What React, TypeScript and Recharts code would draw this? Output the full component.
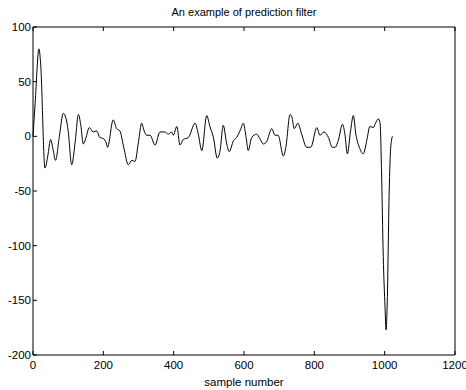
import React from "react";
import { LineChart, Line, XAxis, YAxis, Label } from "recharts";

const sampleIndex = [
  0, 6, 17, 22, 34, 42, 50, 57, 64, 75, 86, 95, 100, 110, 120, 129, 136, 143, 150, 160,
  171, 181, 190, 200, 208, 212, 228, 238, 247, 258, 271, 281, 290, 300, 309, 316, 323, 333,
  347, 361, 375, 385, 394, 399, 409, 418, 427, 442, 461, 470, 480, 494, 503, 513, 524, 532,
  541, 551, 558, 570, 579, 590, 598, 606, 612, 622, 636, 645, 655, 664, 679, 688, 697, 712,
  719, 731, 736, 743, 753, 764, 778, 790, 807, 816, 827, 840, 851, 859, 868, 880, 887, 894,
  903, 911, 918, 928, 939, 949, 958, 968, 974, 982, 987, 991, 996, 1001, 1004, 1007, 1013,
  1017, 1022,
];
const filterOutput = [
  0, 30, 80, 65, -29, -18, -3, -12, -22, 0, 21, 15, 5, -26, -5, 20, 10, -7, -2, 8,
  4, 5, -1, -2, -6, -10, 15, 7, 5, -10, -26, -22, -23, -5, 12, 5, 1, 1,
  -8, 4, 4, 2, 4, 1, 9, -8, -3, -1, 12, 2, -13, 19, 9, -1, -20, -13,
  10, -7, -14, -4, -1, 6, 12, -1, -13, -1, 2, -2, -7, -5, 7, 1, 1, -18,
  -10, 20, 18, 7, 12, 2, -10, -10, 8, 1, 4, -1, -10, -10, -4, 11, 2, -16,
  5, 19, 2, -10, -16, -4, 9, 8, 12, 16, 12, -31, -110, -156, -177, -156, -49,
  -11, 0,
];
const xTicks = [0, 200, 400, 600, 800, 1000, 1200];
const yTicks = [-200, -150, -100, -50, 0, 50, 100];

const data = sampleIndex.map((s, i) => ({ n: s, v: filterOutput[i] }));

const FONT = "'Liberation Sans', Arial, Helvetica, sans-serif";
const TICK_LEN = 4;

const BottomTick = (p: any) => (
  <g>
    <line x1={p.x} y1={p.y} x2={p.x} y2={p.y - TICK_LEN} stroke="#000" />
    <text x={p.x} y={p.y + 14} textAnchor="middle" fontSize={11.5} fontFamily={FONT} fill="#000">
      {p.payload.value}
    </text>
  </g>
);
const TopTick = (p: any) => (
  <line x1={p.x} y1={p.y} x2={p.x} y2={p.y + TICK_LEN} stroke="#000" />
);
const LeftTick = (p: any) => (
  <g>
    <line x1={p.x} y1={p.y} x2={p.x + TICK_LEN} y2={p.y} stroke="#000" />
    <text x={p.x - 2} y={p.y + 4} textAnchor="end" fontSize={11.5} fontFamily={FONT} fill="#000">
      {p.payload.value}
    </text>
  </g>
);
const RightTick = (p: any) => (
  <line x1={p.x} y1={p.y} x2={p.x - TICK_LEN} y2={p.y} stroke="#000" />
);

export default function App() {
  return (
    <div style={{ position: "absolute", left: 0, top: 0, width: 466, height: 390, background: "#fff" }}>
      <LineChart width={466} height={390} data={data} margin={{ top: 26, right: 10, bottom: 0, left: 0 }}>
        <XAxis
          dataKey="n"
          type="number"
          domain={[0, 1200]}
          ticks={xTicks}
          xAxisId="b"
          orientation="bottom"
          height={35}
          tickSize={0}
          tickMargin={0}
          tick={<BottomTick />}
          tickLine={false}
          axisLine={{ stroke: "#000" }}
          interval={0}
        >
          <Label value="sample number" position="insideBottom" offset={4} fontSize={11.5} fontFamily={FONT} fill="#000" />
        </XAxis>
        <XAxis
          dataKey="n"
          type="number"
          domain={[0, 1200]}
          ticks={xTicks}
          xAxisId="t"
          orientation="top"
          height={1}
          tickSize={0}
          tickMargin={0}
          tick={<TopTick />}
          tickLine={false}
          axisLine={{ stroke: "#000" }}
          interval={0}
        >
          <Label value="An example of prediction filter" position="top" offset={10} fontSize={11} fontFamily={FONT} fill="#000" />
        </XAxis>
        <YAxis
          type="number"
          domain={[-200, 100]}
          ticks={yTicks}
          yAxisId="l"
          orientation="left"
          width={33}
          tickSize={0}
          tickMargin={0}
          tick={<LeftTick />}
          tickLine={false}
          axisLine={{ stroke: "#000" }}
          interval={0}
        />
        <YAxis
          type="number"
          domain={[-200, 100]}
          ticks={yTicks}
          yAxisId="r"
          orientation="right"
          width={1}
          tickSize={0}
          tickMargin={0}
          tick={<RightTick />}
          tickLine={false}
          axisLine={{ stroke: "#000" }}
          interval={0}
        />
        <Line
          xAxisId="b"
          yAxisId="l"
          dataKey="v"
          type="monotone"
          stroke="#000"
          strokeWidth={1}
          dot={false}
          isAnimationActive={false}
        />
      </LineChart>
    </div>
  );
}
